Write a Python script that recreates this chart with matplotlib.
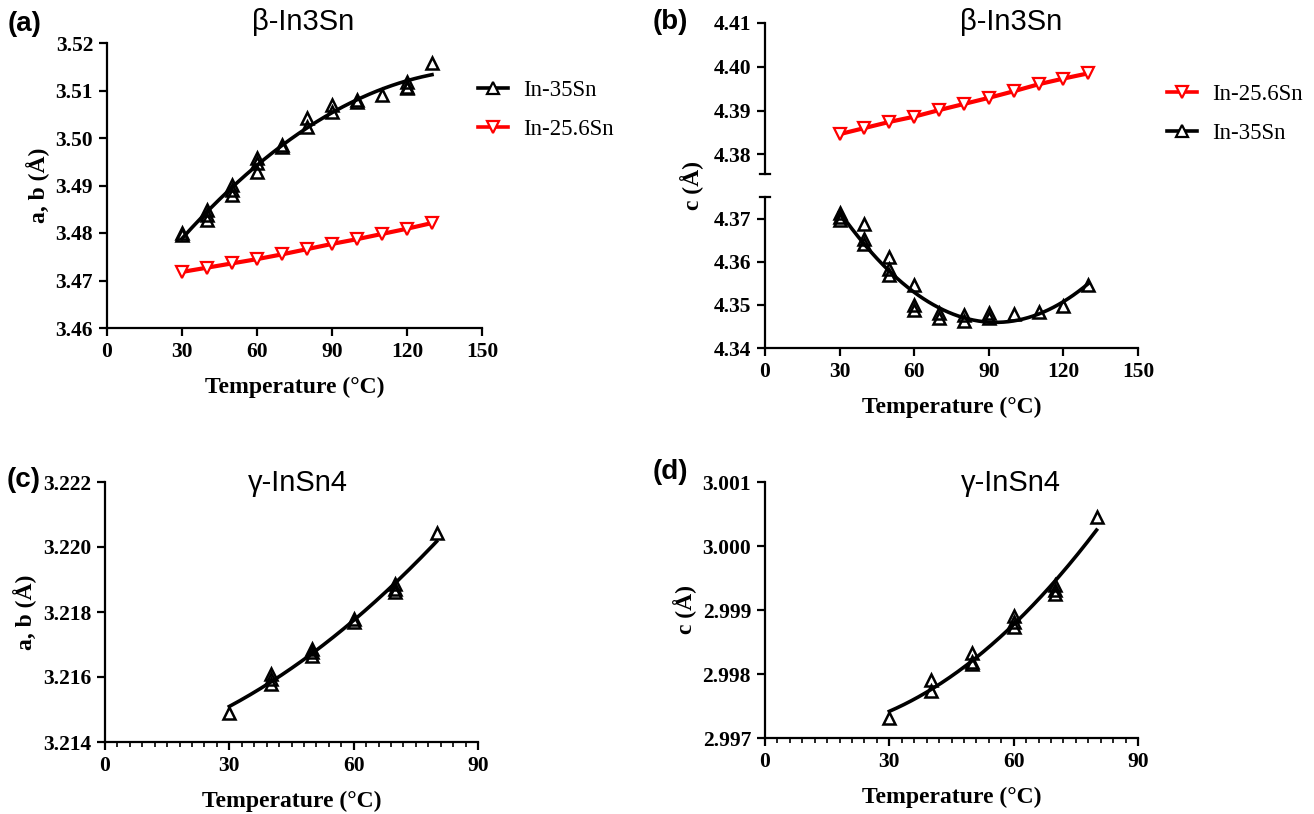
import numpy as np
import matplotlib
matplotlib.use("Agg")
import matplotlib.pyplot as plt
from matplotlib.lines import Line2D

# ---- data ----
temps_long = [30, 40, 50, 60, 70, 80, 90, 100, 110, 120, 130]

# (a) a,b of beta-In3Sn, In-35Sn replicates
a35_T = [30, 30, 40, 40, 40, 50, 50, 50, 60, 60, 60, 70, 70, 80, 80, 90, 90,
         100, 100, 110, 120, 120, 120, 130]
a35_v = [3.4800, 3.4795, 3.4848, 3.4838, 3.4827, 3.4901, 3.4891, 3.4880,
         3.4958, 3.4947, 3.4928, 3.4985, 3.4981, 3.5042, 3.5023, 3.5069,
         3.5055, 3.5080, 3.5076, 3.5091, 3.5118, 3.5107, 3.5105, 3.5158]
# (a) In-25.6Sn
a256_v = [3.4718, 3.4727, 3.4736, 3.4745, 3.4755, 3.4766, 3.4777, 3.4787,
          3.4798, 3.4809, 3.4821]

# (b) c of beta-In3Sn
c256_v = [4.3846, 4.3860, 4.3874, 4.3886, 4.3901, 4.3915, 4.3929, 4.3944,
          4.3960, 4.3973, 4.3985]
c35_T = [30, 30, 30, 40, 40, 40, 50, 50, 50, 60, 60, 60, 70, 70, 80, 80,
         90, 90, 100, 110, 120, 130]
c35_v = [4.3712, 4.3703, 4.3696, 4.3688, 4.3653, 4.3642, 4.3611, 4.3582,
         4.3569, 4.3545, 4.3499, 4.3488, 4.3482, 4.3469, 4.3476, 4.3462,
         4.3482, 4.3469, 4.3478, 4.3484, 4.3497, 4.3545]

# (c) a,b of gamma-InSn4
g_ab_T = [30, 40, 40, 40, 50, 50, 50, 60, 60, 70, 70, 70, 80]
g_ab_v = [3.21489, 3.21610, 3.21595, 3.21577, 3.21687, 3.21677, 3.21665,
          3.21780, 3.21769, 3.21887, 3.21872, 3.21862, 3.22043]

# (d) c of gamma-InSn4
g_c_T = [30, 40, 40, 50, 50, 50, 60, 60, 60, 70, 70, 70, 80]
g_c_v = [2.99731, 2.99791, 2.99773, 2.99833, 2.99818, 2.99816, 2.99890,
         2.99882, 2.99874, 2.99939, 2.99931, 2.99925, 3.00045]

W, H = 1314, 814
fig = plt.figure(figsize=(W / 100, H / 100), dpi=100)

SERIF = "Liberation Serif"
SANS = "Liberation Sans"
RED = "#ff0000"


def box(l, t, r, b):
    return [l / W, 1 - b / H, (r - l) / W, (b - t) / H]


def style(ax, bottom=True):
    for s in ["top", "right"]:
        ax.spines[s].set_visible(False)
    ax.spines["left"].set_linewidth(1.6)
    ax.spines["bottom"].set_linewidth(1.6)
    if not bottom:
        ax.spines["bottom"].set_visible(False)
        ax.tick_params(axis="x", bottom=False, labelbottom=False)
    ax.tick_params(width=1.6, length=6, direction="out", pad=4)
    ax.tick_params(which="minor", width=1.2, length=3.5)
    for lab in ax.get_xticklabels() + ax.get_yticklabels():
        lab.set_fontfamily(SERIF)
        lab.set_fontweight("bold")
        lab.set_fontsize(15.5)


def fit_line(ax, T, v, x0, x1):
    p = np.polyfit(T, v, 2)
    xs = np.linspace(x0, x1, 200)
    ax.plot(xs, np.polyval(p, xs), color="black", lw=2.6, zorder=2)


def scat(ax, T, v, col="black", m="^"):
    ax.plot(T, v, ls="none", marker=m, ms=9, mfc="none", mec=col, mew=1.8,
            zorder=3)


def xlab(ax):
    ax.set_xlabel("Temperature (°C)", fontfamily=SERIF, fontweight="bold",
                  fontsize=17, labelpad=11)


def ylab(ax, s):
    ax.set_ylabel(s, fontfamily=SERIF, fontweight="bold", fontsize=17)


def title(x, y, s):
    fig.text(x / W, 1 - y / H, s, ha="center", va="center", fontfamily=SANS,
             fontsize=21)


h35 = Line2D([], [], color="black", lw=2.6, marker="^", ms=8, mfc="white",
             mec="black", mew=1.6)
h256 = Line2D([], [], color=RED, lw=2.6, marker="v", ms=8, mfc="white",
              mec=RED, mew=1.6)
leg_kw = dict(frameon=False, prop={"family": SERIF, "size": 16.5},
              handlelength=1.3, handletextpad=0.65, labelspacing=0.77,
              borderpad=0, borderaxespad=0, loc="upper left")

# ---- (a) ----
axa = fig.add_axes(box(107, 43, 482, 328))
fit_line(axa, a35_T, a35_v, 30, 130)
scat(axa, a35_T, a35_v)
axa.plot(temps_long, a256_v, color=RED, lw=3, marker="v", ms=9, mfc="white",
         mec=RED, mew=1.6, zorder=3)
axa.set_xlim(0, 150)
axa.set_ylim(3.46, 3.52)
axa.set_xticks(range(0, 151, 30))
axa.set_yticks(np.arange(3.46, 3.5201, 0.01))
axa.set_yticklabels([f"{v:.2f}" for v in np.arange(3.46, 3.5201, 0.01)])
style(axa)
xlab(axa)
ylab(axa, "a, b (Å)")
title(303, 22, "β-In3Sn")
axa.legend([h35, h256], ["In-35Sn", "In-25.6Sn"],
           bbox_to_anchor=(478 / W, 1 - 80 / H),
           bbox_transform=fig.transFigure, **leg_kw)

# ---- (b) broken axis ----
axb_up = fig.add_axes(box(765, 23, 1138, 174))
axb_lo = fig.add_axes(box(765, 197, 1138, 348))
axb_up.plot(temps_long, c256_v, color=RED, lw=3, marker="v", ms=9,
            mfc="white", mec=RED, mew=1.6, zorder=3)
fit_line(axb_lo, c35_T, c35_v, 30, 130)
scat(axb_lo, c35_T, c35_v)
for ax in (axb_up, axb_lo):
    ax.set_xlim(0, 150)
axb_up.set_ylim(4.3755, 4.41)
axb_lo.set_ylim(4.34, 4.375)
axb_up.set_yticks([4.38, 4.39, 4.40, 4.41])
axb_up.set_yticklabels(["4.38", "4.39", "4.40", "4.41"])
axb_lo.set_yticks([4.34, 4.35, 4.36, 4.37])
axb_lo.set_yticklabels(["4.34", "4.35", "4.36", "4.37"])
axb_lo.set_xticks(range(0, 151, 30))
style(axb_up, bottom=False)
style(axb_lo)
# end caps of the broken y axis
axb_up.plot([-0.014, 0.014], [0, 0], transform=axb_up.transAxes,
            color="black", lw=1.6, clip_on=False)
axb_lo.plot([-0.014, 0.014], [1, 1], transform=axb_lo.transAxes,
            color="black", lw=1.6, clip_on=False)
xlab(axb_lo)
fig.text(692 / W, 1 - 186 / H, "c (Å)", rotation=90, ha="center",
         va="center", fontfamily=SERIF, fontweight="bold", fontsize=17)
title(1011, 22, "β-In3Sn")
axb_up.legend([h256, h35], ["In-25.6Sn", "In-35Sn"],
              bbox_to_anchor=(1167 / W, 1 - 84 / H),
              bbox_transform=fig.transFigure, **leg_kw)

# ---- (c) ----
axc = fig.add_axes(box(105, 482, 478, 742))
fit_line(axc, g_ab_T, g_ab_v, 30, 80)
scat(axc, g_ab_T, g_ab_v)
axc.set_xlim(0, 90)
axc.set_ylim(3.214, 3.222)
axc.set_xticks(range(0, 91, 30))
axc.set_xticks(range(0, 91, 3), minor=True)
yt = [3.214, 3.216, 3.218, 3.220, 3.222]
axc.set_yticks(yt)
axc.set_yticklabels([f"{v:.3f}" for v in yt])
style(axc)
xlab(axc)
ylab(axc, "a, b (Å)")
title(298, 483, "γ-InSn4")

# ---- (d) ----
axd = fig.add_axes(box(765, 482, 1138, 738))
fit_line(axd, g_c_T, g_c_v, 30, 80)
scat(axd, g_c_T, g_c_v)
axd.set_xlim(0, 90)
axd.set_ylim(2.997, 3.001)
axd.set_xticks(range(0, 91, 30))
axd.set_xticks(range(0, 91, 3), minor=True)
yt = [2.997, 2.998, 2.999, 3.000, 3.001]
axd.set_yticks(yt)
axd.set_yticklabels([f"{v:.3f}" for v in yt])
style(axd)
xlab(axd)
ylab(axd, "c (Å)")
title(1011, 483, "γ-InSn4")

# panel letters
for s, x, y in [("(a)", 8, 24), ("(b)", 653, 22), ("(c)", 7, 480),
                ("(d)", 653, 472)]:
    fig.text(x / W, 1 - y / H, s, ha="left", va="center", fontfamily=SANS,
             fontweight="bold", fontsize=20)

fig.savefig("out.png", dpi=100)
